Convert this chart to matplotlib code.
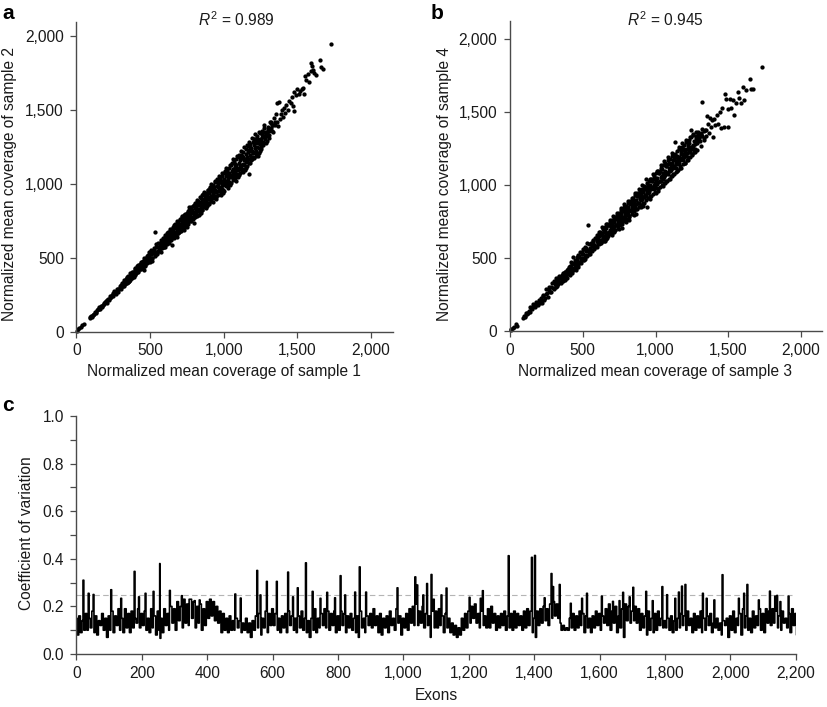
import numpy as np
import matplotlib
matplotlib.use('Agg')
import matplotlib.pyplot as plt
from matplotlib.ticker import FuncFormatter

plt.rcParams['font.family'] = ['Liberation Sans', 'DejaVu Sans']
plt.rcParams['mathtext.fontset'] = 'custom'
plt.rcParams['mathtext.it'] = 'Liberation Sans:italic'
plt.rcParams['mathtext.rm'] = 'Liberation Sans'

# ==== panel a ====
sample1 = [5, 12, 20, 30, 40, 50, 90, 95, 105, 110,
           120, 130, 140, 150, 160, 170, 180, 195, 205, 215,
           230, 240, 250, 255, 265, 275, 285, 295, 305, 315,
           325, 335, 340, 350, 355, 365, 370, 380, 385, 395,
           400, 405, 415, 420, 430, 435, 445, 450, 455, 465,
           470, 480, 485, 490, 500, 505, 515, 520, 530, 534,
           545, 550, 560, 565, 575, 580, 590, 595, 600, 610,
           600, 605, 610, 615, 620, 625, 630, 635, 640, 645,
           650, 655, 660, 665, 670, 675, 680, 685, 690, 695,
           700, 705, 710, 715, 720, 725, 730, 735, 740, 745,
           750, 755, 760, 765, 770, 775, 780, 785, 790, 795,
           800, 805, 810, 815, 820, 825, 830, 835, 840, 845,
           850, 855, 860, 865, 870, 875, 880, 885, 890, 895,
           900, 905, 910, 915, 920, 925, 930, 935, 940, 945,
           950, 955, 960, 965, 970, 975, 980, 985, 990, 995,
           1000, 1005, 1010, 1015, 1020, 1025, 1030, 1035, 1040, 1045,
           1050, 1055, 1060, 1065, 1070, 1075, 1080, 1085, 1090, 1095,
           1100, 1105, 1110, 1115, 1120, 1125, 1130, 1135, 1140, 1145,
           1150, 1155, 1160, 1170, 1170, 1175, 1180, 1185, 1190, 1195,
           1200, 1205, 1210, 1215, 1220, 1225, 1230, 1235, 1240, 1245,
           1250, 1258, 1265, 1272, 1280, 1288, 1295, 1300, 1305, 1312,
           1318, 1325, 1332, 1340, 1346, 1352, 1358, 1365, 1372, 1380,
           1360, 1388, 1395, 1402, 1410, 1418, 1425, 1435, 1445, 1455,
           1462, 1470, 1476, 1480, 1490, 1500, 1510, 1520, 1535, 1545,
           1530, 1550, 1560, 1570, 1580, 1590, 1595, 1600, 1605, 1615,
           1625, 1654, 1662, 1672, 1728,
           100, 115, 125, 135, 145, 155, 165, 175, 185, 190,
           200, 210, 220, 225, 235, 245, 260, 270, 280, 290,
           300, 310, 320, 330, 338, 345, 352, 360, 368, 375,
           382, 390, 398, 402, 410, 418, 425, 432, 440, 448,
           458, 462, 475, 478, 488, 495, 498, 508, 512, 525,
           528, 540, 542, 555, 558, 568, 572, 585, 588, 598,
           603, 608, 613, 618, 623, 628, 633, 638, 643, 648,
           653, 658, 663, 668, 673, 678, 683, 688, 693, 698,
           703, 708, 713, 718, 723, 728, 733, 738, 743, 748,
           753, 758, 763, 768, 773, 778, 783, 788, 793, 798,
           803, 808, 813, 818, 823, 828, 833, 838, 843, 848,
           853, 858, 863, 868, 873, 878, 883, 888, 893, 898,
           903, 908, 913, 918, 923, 928, 933, 938, 943, 948,
           953, 958, 963, 968, 973, 978, 983, 988, 993, 998,
           1003, 1008, 1013, 1018, 1023, 1028, 1033, 1038, 1043, 1048,
           1053, 1058, 1063, 1068, 1073, 1078, 1083, 1088, 1093, 1098,
           1103, 1108, 1113, 1118, 1123, 1128, 1133, 1138, 1143, 1148,
           1153, 1158, 1163, 1168, 1173, 1178, 1183, 1188, 1193, 1198,
           1203, 1208, 1213, 1218, 1223, 1228, 1233, 1238, 1243, 1248,
           1255, 1262, 1270, 1276, 1285, 1292, 1298, 1310, 1322, 1335,
           300, 308, 316, 324, 332, 340, 348, 356, 364, 372,
           380, 388, 396, 404, 412, 420, 428, 436, 444, 452,
           460, 468, 476, 484, 492, 500, 508, 516, 524, 532,
           540, 548, 556, 564, 572, 580, 588, 596, 604, 612,
           620, 628, 636, 644, 652, 660, 668, 676, 684, 692,
           700, 708, 716, 724, 732, 740, 748, 756, 764, 772,
           780, 788, 796, 804, 812, 820, 828, 836, 844, 852,
           860, 868, 876, 884, 892, 900, 908, 916, 924, 932,
           940, 948, 956, 964, 972, 980, 988, 996, 1004, 1012,
           1020, 1028, 1036, 1044, 1052, 1060, 1068, 1076, 1084, 1092,
           1100, 1108, 1116, 1124, 1132, 1140, 1148, 1156, 1164, 1172,
           1180, 1188, 1196, 1204, 1212, 1220, 1228, 1236, 1244, 1252,
           1260, 1268, 1276, 1284, 1292, 1300, 1310, 1320, 1330, 1345]
sample2 = [5, 15, 25, 32, 42, 48, 90, 100, 95, 112,
           118, 125, 145, 150, 155, 175, 178, 200, 195, 220,
           225, 250, 240, 275, 255, 285, 270, 305, 300, 325,
           310, 355, 330, 375, 345, 350, 385, 365, 405, 380,
           430, 395, 410, 450, 425, 470, 440, 475, 415, 455,
           490, 465, 520, 480, 540, 500, 475, 530, 510, 675,
           525, 570, 555, 590, 540, 600, 570, 620, 640, 590,
           570, 640, 600, 670, 620, 655, 610, 640, 680, 625,
           585, 700, 650, 720, 670, 705, 640, 690, 735, 675,
           680, 760, 715, 785, 725, 770, 690, 750, 795, 730,
           710, 815, 770, 840, 785, 825, 745, 800, 850, 775,
           735, 870, 825, 890, 830, 875, 790, 855, 910, 800,
           820, 925, 880, 945, 870, 930, 835, 900, 960, 860,
           860, 975, 920, 1000, 905, 985, 875, 950, 1020, 895,
           910, 1030, 975, 1050, 950, 1035, 925, 1000, 1070, 940,
           950, 1085, 1020, 1105, 1000, 1080, 970, 1050, 1130, 990,
           1005, 1140, 1070, 1165, 1045, 1135, 1020, 1100, 1190, 1045,
           1060, 1195, 1125, 1225, 1100, 1190, 1080, 1160, 1250, 1090,
           1110, 1260, 1180, 1285, 1065, 1250, 1140, 1225, 1310, 1170,
           1180, 1305, 1240, 1340, 1210, 1290, 1190, 1275, 1350, 1225,
           1250, 1340, 1280, 1395, 1305, 1350, 1290, 1370, 1330, 1420,
           1375, 1400, 1350, 1445, 1420, 1475, 1415, 1390, 1555, 1440,
           1550, 1470, 1500, 1455, 1510, 1480, 1530, 1500, 1560, 1545,
           1590, 1525, 1620, 1490, 1600, 1640, 1610, 1630, 1650, 1610,
           1640, 1730, 1700, 1745, 1690, 1760, 1820, 1800, 1770, 1750,
           1735, 1838, 1790, 1775, 1948,
           108, 112, 135, 130, 150, 165, 170, 168, 190, 185,
           205, 210, 215, 240, 235, 258, 260, 270, 290, 285,
           315, 310, 335, 340, 325, 360, 335, 375, 360, 390,
           375, 405, 395, 415, 425, 420, 445, 440, 460, 450,
           480, 440, 480, 505, 500, 520, 470, 525, 500, 540,
           555, 540, 575, 545, 575, 575, 605, 590, 610, 605,
           625, 615, 650, 640, 610, 675, 660, 625, 665, 645,
           680, 665, 700, 650, 715, 675, 720, 670, 705, 695,
           725, 705, 745, 710, 755, 730, 770, 720, 760, 745,
           780, 755, 795, 765, 810, 775, 820, 770, 810, 795,
           835, 805, 850, 815, 860, 830, 875, 820, 860, 845,
           885, 855, 900, 860, 915, 880, 925, 870, 910, 895,
           935, 900, 950, 915, 965, 930, 975, 920, 960, 945,
           985, 950, 1000, 960, 1015, 975, 1020, 965, 1010, 995,
           1035, 1000, 1050, 1015, 1060, 1030, 1070, 1010, 1060, 1045,
           1085, 1050, 1100, 1060, 1115, 1080, 1125, 1065, 1110, 1095,
           1140, 1105, 1160, 1120, 1175, 1135, 1180, 1125, 1165, 1150,
           1200, 1160, 1215, 1170, 1230, 1195, 1240, 1180, 1225, 1205,
           1260, 1215, 1275, 1225, 1290, 1250, 1305, 1240, 1285, 1270,
           1300, 1315, 1320, 1350, 1335, 1345, 1385, 1360, 1420, 1395,
           290, 330, 305, 350, 320, 368, 335, 345, 395, 360,
           400, 370, 420, 395, 440, 405, 455, 420, 470, 430,
           500, 450, 510, 470, 535, 490, 555, 495, 565, 515,
           590, 530, 600, 545, 620, 565, 635, 575, 655, 595,
           675, 600, 695, 620, 710, 630, 730, 650, 745, 665,
           755, 680, 775, 695, 790, 705, 805, 725, 825, 745,
           845, 760, 855, 775, 870, 785, 885, 805, 905, 825,
           930, 840, 940, 850, 955, 870, 970, 885, 990, 905,
           1010, 915, 1020, 925, 1040, 945, 1055, 960, 1075, 985,
           1095, 995, 1110, 1005, 1130, 1025, 1145, 1040, 1165, 1060,
           1180, 1070, 1195, 1085, 1215, 1100, 1235, 1120, 1255, 1140,
           1270, 1160, 1280, 1175, 1300, 1190, 1320, 1210, 1345, 1235,
           1360, 1265, 1375, 1275, 1325, 1360, 1310, 1410, 1355, 1400]

# ==== panel b ====
sample3 = [5, 10, 18, 28, 40, 50, 92, 98, 105, 112,
           120, 130, 140, 150, 160, 170, 180, 190, 200, 210,
           220, 230, 240, 245, 255, 260, 270, 280, 290, 300,
           305, 315, 325, 335, 345, 355, 365, 375, 380, 390,
           395, 405, 410, 420, 425, 435, 440, 450, 455, 465,
           470, 480, 485, 495, 500, 510, 515, 525, 530, 538,
           545, 555, 560, 570, 575, 585, 590, 600, 605, 615,
           620, 625, 630, 635, 640, 645, 650, 655, 660, 665,
           670, 675, 680, 685, 690, 695, 700, 705, 710, 715,
           720, 725, 730, 735, 740, 745, 750, 755, 760, 767,
           770, 775, 780, 785, 790, 795, 800, 805, 810, 815,
           820, 825, 830, 835, 840, 845, 850, 855, 860, 865,
           870, 875, 880, 885, 890, 895, 900, 905, 910, 915,
           920, 925, 930, 935, 940, 945, 939, 955, 960, 965,
           970, 975, 980, 985, 990, 995, 1000, 1005, 1010, 1015,
           1020, 1025, 1030, 1035, 1040, 1045, 1050, 1055, 1060, 1065,
           1070, 1075, 1080, 1085, 1090, 1095, 1100, 1105, 1110, 1115,
           1120, 1125, 1130, 1135, 1140, 1145, 1150, 1155, 1160, 1165,
           1170, 1175, 1180, 1185, 1190, 1195, 1200, 1205, 1210, 1215,
           1220, 1225, 1230, 1235, 1240, 1245, 1250, 1255, 1260, 1265,
           1270, 1278, 1285, 1292, 1300, 1308, 1315, 1322, 1330, 1338,
           1345, 1352, 1360, 1368, 1375, 1382, 1390, 1398, 1405, 1412,
           1420, 1430, 1440, 1450, 1460, 1470, 1478, 1485, 1495, 1500,
           1510, 1520, 1530, 1540, 1550, 1565, 1575, 1590, 1600, 1610,
           1620, 1648, 1655, 1672, 1734,
           100, 115, 125, 135, 145, 155, 165, 175, 185, 195,
           205, 215, 225, 235, 250, 265, 275, 285, 295, 310,
           320, 330, 340, 350, 358, 368, 378, 385, 398, 402,
           415, 422, 430, 438, 445, 460, 468, 475, 488, 492,
           505, 512, 520, 535, 542, 550, 565, 572, 580, 595,
           603, 608, 613, 618, 623, 628, 633, 638, 643, 648,
           653, 658, 663, 668, 673, 678, 683, 688, 693, 698,
           703, 708, 713, 718, 723, 728, 733, 738, 743, 748,
           753, 758, 763, 768, 773, 778, 783, 788, 793, 798,
           803, 808, 813, 818, 823, 828, 833, 838, 843, 848,
           853, 858, 863, 868, 873, 878, 883, 888, 893, 898,
           903, 908, 913, 918, 923, 928, 933, 938, 943, 948,
           953, 958, 963, 968, 973, 978, 983, 988, 993, 998,
           1003, 1008, 1013, 1018, 1023, 1028, 1033, 1038, 1043, 1048,
           1053, 1058, 1063, 1068, 1073, 1078, 1083, 1088, 1093, 1098,
           1103, 1108, 1113, 1118, 1123, 1128, 1133, 1138, 1143, 1148,
           1153, 1158, 1163, 1168, 1173, 1178, 1183, 1188, 1193, 1198,
           1203, 1208, 1213, 1218, 1223, 1228, 1233, 1238, 1243, 1248,
           1255, 1262, 1270, 1276, 1285, 1292, 1298, 1310, 1322, 1335,
           300, 308, 316, 324, 332, 340, 348, 356, 364, 372,
           380, 388, 396, 404, 412, 420, 428, 436, 444, 452,
           460, 468, 476, 484, 492, 500, 508, 516, 524, 532,
           540, 548, 556, 564, 572, 580, 588, 596, 604, 612,
           620, 628, 636, 644, 652, 660, 668, 676, 684, 692,
           700, 708, 716, 724, 732, 740, 748, 756, 764, 772,
           780, 788, 796, 804, 812, 820, 828, 836, 844, 852,
           860, 868, 876, 884, 892, 900, 908, 916, 924, 932,
           940, 948, 956, 964, 972, 980, 988, 996, 1004, 1012,
           1020, 1028, 1036, 1044, 1052, 1060, 1068, 1076, 1084, 1092,
           1100, 1108, 1116, 1124, 1132, 1140, 1148, 1156, 1164, 1172,
           1180, 1188, 1196, 1204, 1212, 1220, 1228, 1236, 1244, 1252,
           1260, 1268, 1276, 1284, 1292, 1300, 1310, 1320, 1330, 1345]
sample4 = [5, 15, 20, 30, 45, 35, 90, 105, 95, 120,
           115, 140, 165, 150, 185, 165, 200, 180, 215, 205,
           190, 250, 225, 290, 260, 235, 300, 270, 330, 345,
           295, 360, 310, 370, 335, 385, 345, 405, 350, 420,
           365, 440, 385, 470, 400, 510, 430, 490, 420, 520,
           440, 540, 465, 500, 560, 485, 575, 520, 600, 728,
           530, 595, 555, 620, 570, 640, 580, 660, 600, 680,
           600, 665, 620, 710, 640, 695, 615, 680, 735, 650,
           640, 725, 670, 760, 690, 740, 655, 715, 785, 680,
           690, 770, 725, 810, 745, 790, 700, 765, 840, 705,
           735, 825, 780, 870, 800, 845, 750, 815, 890, 760,
           780, 875, 830, 910, 850, 900, 795, 865, 945, 800,
           835, 925, 880, 970, 905, 950, 850, 920, 1000, 860,
           880, 975, 930, 1040, 955, 1000, 849, 965, 1045, 905,
           925, 1030, 985, 1075, 1000, 1050, 945, 1015, 1100, 960,
           975, 1080, 1030, 1140, 1055, 1110, 995, 1070, 1165, 1015,
           1030, 1130, 1085, 1190, 1100, 1150, 1045, 1120, 1220, 1060,
           1075, 1180, 1130, 1295, 1150, 1200, 1100, 1170, 1260, 1120,
           1130, 1230, 1185, 1290, 1205, 1250, 1150, 1220, 1310, 1175,
           1190, 1280, 1240, 1330, 1255, 1375, 1210, 1275, 1345, 1225,
           1250, 1320, 1290, 1365, 1330, 1300, 1350, 1570, 1310, 1380,
           1340, 1475, 1420, 1360, 1460, 1400, 1445, 1330, 1450, 1410,
           1480, 1420, 1500, 1390, 1530, 1395, 1625, 1590, 1400, 1520,
           1590, 1530, 1580, 1480, 1560, 1640, 1600, 1560, 1670, 1580,
           1650, 1730, 1660, 1660, 1808,
           105, 125, 125, 130, 155, 170, 175, 170, 195, 190,
           195, 225, 240, 215, 255, 280, 265, 305, 295, 325,
           340, 345, 360, 365, 350, 380, 385, 375, 415, 395,
           425, 440, 415, 465, 450, 490, 475, 510, 495, 525,
           530, 510, 545, 555, 540, 570, 585, 600, 590, 620,
           630, 605, 650, 625, 660, 610, 670, 640, 680, 650,
           685, 660, 705, 670, 725, 680, 730, 675, 715, 695,
           735, 705, 750, 720, 770, 730, 785, 725, 765, 745,
           785, 755, 800, 770, 820, 780, 835, 775, 815, 795,
           835, 805, 850, 820, 870, 830, 885, 825, 865, 845,
           885, 855, 900, 870, 925, 880, 935, 875, 915, 895,
           935, 905, 950, 920, 975, 930, 990, 925, 965, 945,
           985, 955, 1000, 970, 1025, 980, 1040, 975, 1015, 995,
           1035, 1005, 1050, 1020, 1080, 1030, 1095, 1025, 1065, 1045,
           1085, 1055, 1100, 1070, 1130, 1080, 1145, 1075, 1115, 1095,
           1135, 1105, 1150, 1120, 1170, 1130, 1190, 1120, 1165, 1145,
           1180, 1150, 1195, 1170, 1215, 1180, 1240, 1170, 1210, 1190,
           1230, 1200, 1245, 1220, 1265, 1230, 1290, 1225, 1260, 1245,
           1270, 1305, 1280, 1335, 1300, 1345, 1320, 1355, 1340, 1370,
           285, 335, 300, 355, 320, 375, 330, 345, 400, 365,
           405, 365, 425, 390, 445, 405, 460, 420, 475, 435,
           505, 450, 515, 470, 540, 490, 560, 495, 570, 515,
           595, 530, 605, 545, 625, 565, 640, 575, 660, 595,
           680, 600, 700, 620, 715, 630, 735, 650, 750, 665,
           760, 680, 780, 695, 795, 705, 810, 725, 830, 745,
           850, 755, 860, 770, 875, 785, 890, 800, 910, 820,
           935, 835, 945, 850, 960, 865, 975, 880, 995, 900,
           1015, 910, 1025, 925, 1045, 940, 1060, 955, 1080, 980,
           1100, 985, 1115, 1000, 1135, 1015, 1150, 1030, 1170, 1045,
           1180, 1060, 1200, 1075, 1215, 1090, 1235, 1105, 1250, 1120,
           1260, 1145, 1275, 1155, 1295, 1170, 1310, 1190, 1330, 1205,
           1350, 1230, 1365, 1240, 1300, 1340, 1270, 1385, 1320, 1380]

# ==== panel c: coefficient of variation, one reading every 5 exons ====
cv_base = [.15, .08, .16, .09, .14, .10, .17, .10, .15, .11, .18, .09, .16, .08, .14, .12, .17, .10, .15, .07,
           .16, .10, .18, .09, .16, .12, .19, .10, .15, .09, .19, .11, .17, .09, .18, .11, .15, .13, .19, .11,
           .17, .12, .18, .10, .15, .09, .19, .11, .16, .08, .18, .10, .15, .09, .19, .12, .17, .10, .20, .13,
           .19, .10, .22, .14, .20, .11, .23, .13, .21, .12, .23, .15, .22, .11, .20, .13, .21, .10, .19, .12,
           .22, .15, .23, .16, .22, .14, .20, .13, .18, .09, .17, .10, .15, .09, .16, .10, .14, .10, .15, .11,
           .14, .09, .13, .10, .15, .09, .13, .07, .14, .10, .16, .11, .17, .08, .15, .11, .18, .09, .17, .12,
           .19, .12, .17, .10, .15, .09, .16, .11, .17, .09, .18, .12, .16, .10, .15, .09, .16, .11, .18, .10,
           .15, .09, .14, .07, .15, .10, .19, .09, .15, .11, .17, .12, .19, .11, .18, .10, .17, .12, .18, .09,
           .16, .10, .18, .12, .17, .09, .16, .11, .17, .10, .15, .09, .16, .07, .18, .11, .15, .09, .16, .12,
           .17, .11, .19, .12, .16, .09, .17, .08, .15, .11, .16, .09, .18, .12, .15, .10, .19, .13, .16, .08,
           .15, .11, .17, .10, .19, .13, .20, .12, .21, .12, .18, .13, .20, .11, .17, .12, .16, .07, .18, .11,
           .18, .11, .19, .12, .16, .09, .17, .11, .15, .09, .13, .08, .12, .07, .11, .08, .15, .10, .17, .11,
           .18, .13, .20, .15, .21, .13, .17, .11, .18, .12, .16, .11, .19, .11, .20, .13, .17, .10, .16, .11,
           .17, .12, .18, .10, .16, .11, .17, .10, .18, .11, .17, .12, .16, .10, .18, .11, .19, .12, .18, .09,
           .15, .07, .18, .12, .19, .13, .20, .14, .19, .12, .21, .15, .22, .16, .21, .15, .13, .10, .12, .10,
           .11, .10, .15, .11, .17, .10, .16, .11, .18, .12, .17, .09, .16, .11, .15, .09, .16, .11, .18, .12,
           .17, .10, .16, .13, .19, .12, .21, .10, .18, .13, .20, .09, .16, .11, .19, .07, .21, .14, .20, .13,
           .18, .14, .20, .13, .19, .10, .17, .11, .16, .08, .18, .10, .15, .09, .17, .10, .18, .12, .15, .11,
           .14, .11, .15, .10, .16, .09, .14, .10, .15, .11, .17, .12, .16, .10, .18, .12, .15, .09, .17, .10,
           .16, .11, .18, .09, .15, .10, .16, .12, .17, .09, .13, .11, .15, .10, .13, .08, .14, .12, .15, .07,
           .16, .10, .18, .09, .15, .12, .17, .08, .19, .11, .16, .10, .15, .09, .18, .11, .16, .12, .19, .10,
           .17, .09, .19, .13, .18, .12, .19, .13, .18, .11, .16, .10, .18, .13, .15, .11, .17, .09, .19, .12,
           .17, .08, .20, .13, .16, .10, .18, .12, .15, .07, .16, .11, .15, .09, .17, .12, .20, .15, .21]
spike_exons = [21, 38, 53, 106, 137, 179, 191, 211, 235, 255, 257, 285, 323, 345, 362, 377, 485, 503,
               554, 564, 583, 614, 648, 663, 677, 702, 723, 746, 767, 790, 809, 822, 853, 866, 885,
               982, 1036, 1043, 1060, 1073, 1085, 1094, 1116, 1132, 1203, 1236, 1244, 1322, 1394, 1403,
               1432, 1454, 1459, 1479, 1512, 1546, 1561, 1607, 1640, 1660, 1672, 1692, 1704, 1743, 1763,
               1792, 1806, 1831, 1843, 1852, 1863, 1915, 1928, 1950, 1975, 2025, 2042, 2052, 2087, 2120,
               2137, 2144, 2154, 2179]
spike_cv = [.31, .255, .25, .27, .234, .347, .24, .255, .263, .38, .066, .267, .245, .23, .224, .227, .252, .235,
            .351, .248, .305, .305, .344, .24, .278, .383, .263, .234, .259, .236, .329, .248, .26, .366, .26,
            .278, .324, .29, .248, .296, .334, .23, .248, .277, .238, .234, .266, .413, .406, .414,
            .236, .338, .283, .292, .213, .234, .255, .243, .221, .224, .259, .24, .28, .263, .224,
            .283, .249, .234, .26, .285, .292, .255, .234, .227, .333, .234, .255, .292, .227, .264,
            .243, .246, .22, .243]

xy_ticks = [0, 500, 1000, 1500, 2000]
exon_ticks = list(range(0, 2201, 200))
cv_major = [0.0, 0.2, 0.4, 0.6, 0.8, 1.0]
cv_minor = [0.1, 0.3, 0.5, 0.7, 0.9]
cutoff = 0.25

W, H = 828, 707
axis_color = '#4a4a4a'
text_color = '#1a1a1a'
fs = 11.2
thousands = FuncFormatter(lambda v, p: f'{int(v):,}')


def make_axes(left, right, top, bottom):
    ax = fig.add_axes([left / W, 1 - bottom / H, (right - left) / W, (bottom - top) / H])
    ax.spines['top'].set_visible(False)
    ax.spines['right'].set_visible(False)
    for s in ['left', 'bottom']:
        ax.spines[s].set_color(axis_color)
        ax.spines[s].set_linewidth(1.0)
    ax.tick_params(colors=axis_color, labelcolor=text_color, labelsize=fs, length=4, width=0.9)
    ax.tick_params(axis='x', pad=4.5)
    ax.tick_params(axis='y', pad=5)
    ax.tick_params(which='minor', colors=axis_color, length=4, width=0.9)
    return ax


def scatter_panel(ax, x, y, xmax, ymax, xlabel, ylabel):
    ax.scatter(x, y, s=9.5, c='black', linewidths=0, clip_on=False)
    ax.set_xlim(0, xmax)
    ax.set_ylim(0, ymax)
    ax.set_xticks(xy_ticks)
    ax.set_yticks(xy_ticks)
    ax.xaxis.set_major_formatter(thousands)
    ax.yaxis.set_major_formatter(thousands)
    ax.set_xlabel(xlabel, fontsize=fs, color=text_color)
    ax.set_ylabel(ylabel, fontsize=fs, color=text_color)


fig = plt.figure(figsize=(W / 100, H / 100), dpi=100)

ax_a = make_axes(76.5, 393, 21.7, 331.5)
scatter_panel(ax_a, sample1, sample2, 2149, 2097, 'Normalized mean coverage of sample 1',
              'Normalized mean coverage of sample 2')

ax_b = make_axes(510, 822, 20.7, 331)
scatter_panel(ax_b, sample3, sample4, 2144, 2127, 'Normalized mean coverage of sample 3',
              'Normalized mean coverage of sample 4')

ax_c = make_axes(76.3, 795.7, 416, 654)
exons = np.concatenate([np.arange(len(cv_base)) * 5, spike_exons])
cv = np.concatenate([cv_base, spike_cv])
order = np.argsort(exons, kind='stable')
ax_c.plot([0, 2190], [cutoff, cutoff], color='#b5b5b5', lw=0.8, ls=(0, (5, 3)), zorder=1)
ax_c.plot(exons[order], cv[order], color='black', lw=1.2, drawstyle='steps-mid', zorder=2)
ax_c.set_xlim(0, 2200)
ax_c.set_ylim(0, 1.0)
ax_c.set_xticks(exon_ticks)
ax_c.xaxis.set_major_formatter(thousands)
ax_c.set_yticks(cv_major)
ax_c.set_yticks(cv_minor, minor=True)
ax_c.set_yticklabels([f'{v:.1f}' for v in cv_major])
ax_c.set_xlabel('Exons', fontsize=fs, color=text_color, labelpad=5)
ax_c.set_ylabel('Coefficient of variation', fontsize=fs, color=text_color)

# label positions in pixels of the reference
for ax, label_x, label_right, label_cy, title_cx, r2 in [(ax_a, 223.5, 17, 184, 236, 0.989),
                                                         (ax_b, 655.5, 452, 184, 665, 0.945)]:
    ax.xaxis.set_label_coords(label_x / W, 1 - 364 / H, transform=fig.transFigure)
    ax.yaxis.set_label_coords(label_right / W, 1 - label_cy / H, transform=fig.transFigure)
    fig.text(title_cx / W, 1 - 20 / H, rf'$\mathit{{R}}^{{2}}$ = {r2}', fontsize=fs, color=text_color,
             ha='center', va='center')
ax_c.yaxis.set_label_coords(34 / W, 1 - 533 / H, transform=fig.transFigure)

for letter, px, py in [('a', 2, 19), ('b', 431, 19), ('c', 2, 411)]:
    fig.text(px / W, 1 - py / H, letter, fontsize=15, fontweight='bold', color='black', ha='left', va='baseline')

fig.savefig('out.png', dpi=100)
